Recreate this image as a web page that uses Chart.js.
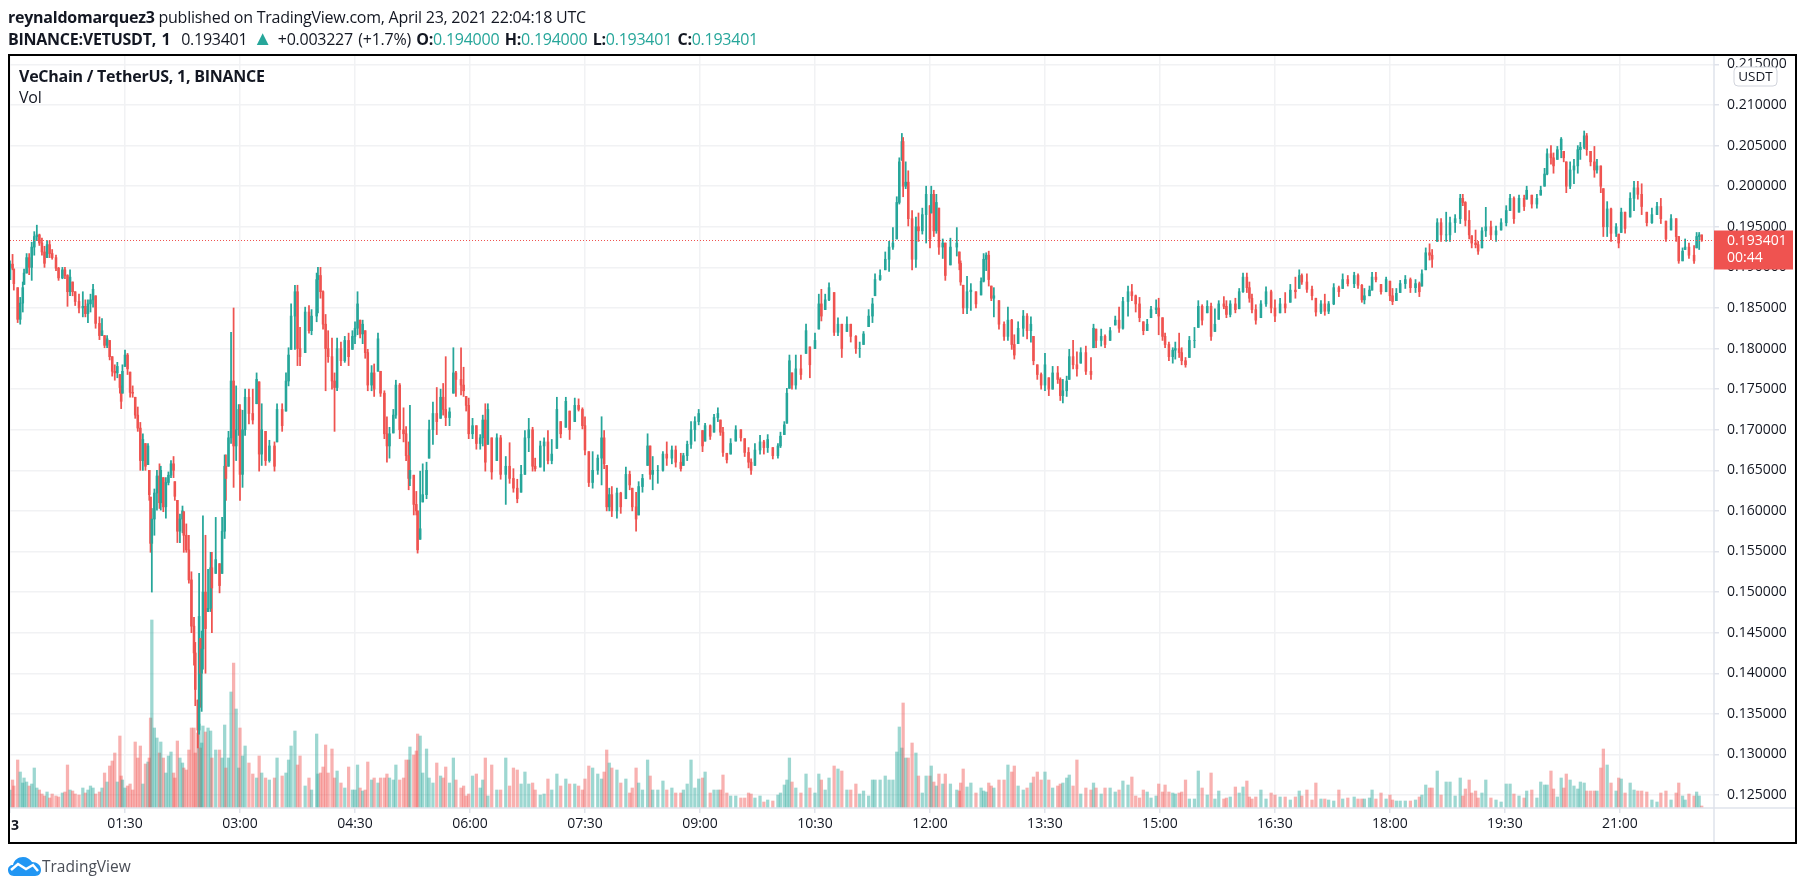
<!DOCTYPE html>
<html>
<head>
<meta charset="utf-8">
<title>VETUSDT</title>
<script src="https://cdn.jsdelivr.net/npm/chart.js@4/dist/chart.umd.min.js"></script>
<style>
html,body{margin:0;padding:0;background:#fff;width:1805px;height:890px;overflow:hidden;}
#wrap{position:relative;width:1805px;height:890px;font-family:"Open Sans",sans-serif;color:#131722;}
canvas{position:absolute;left:0;top:0;}
.t{position:absolute;white-space:nowrap;font-size:16px;line-height:20px;letter-spacing:-0.25px;}
.b{font-weight:700;}
.g{color:#26a69a;}
</style>
</head>
<body>
<div id="wrap">
<canvas id="chart" width="1805" height="890"></canvas>
<div class="t" style="left:8px;top:7px"><span class="b">reynaldomarquez3</span> published on TradingView.com, April 23, 2021 22:04:18 UTC</div>
<div class="t" style="left:8px;top:28px;word-spacing:1.5px"><span class="b">BINANCE:VETUSDT, 1</span>&nbsp; 0.193401 <span class="g" style="font-size:20px">▲</span> +0.003227 (+1.7%) <span class="b">O:</span><span class="g">0.194000</span> <span class="b">H:</span><span class="g">0.194000</span> <span class="b">L:</span><span class="g">0.193401</span> <span class="b">C:</span><span class="g">0.193401</span></div>
<div class="t b" style="left:19px;top:66px">VeChain / TetherUS, 1, BINANCE</div>
<div class="t" style="left:19px;top:87px">Vol</div>
<svg style="position:absolute;left:8px;top:857px" width="33" height="19" viewBox="0 0 33 19">
<path d="M6 19C2 19 0 16 0 13C0 10 2 8 5 8C6 3 10 0 15 0C19 0 22 2 24 5C29 5 33 8 33 13C33 16 31 19 27 19Z" fill="#2196f3"/>
<path d="M3 13L10 7L18 12L25 8L30 14" fill="none" stroke="#fff" stroke-width="2.5"/>
</svg>
<div class="t" style="left:42px;top:856px;font-size:15.5px;letter-spacing:0;color:#4a4e57">TradingView</div>
</div>
<script>
// bars; prices are in 1/10000 USDT, volume in picture units
var barMinute = [
0,2,3,6,8,10,11,13,15,17,19,21,23,25,27,29,31,33,36,38,
41,43,45,47,49,51,54,57,59,61,63,65,67,70,72,74,76,78,80,82,
84,86,87,88,90,92,94,96,98,100,102,104,106,108,109,110,111,113,115,117,
118,120,122,124,126,128,129,131,133,135,136,138,140,142,144,145,147,148,149,150,
151,153,155,157,158,161,164,166,168,169,171,173,175,177,179,180,182,184,187,
190,193,195,197,200,203,207,209,213,216,218,220,223,225,227,231,234,236,240,241,
243,245,247,249,252,254,256,259,262,265,268,270,272,274,276,278,280,283,285,288,
290,293,295,297,300,302,305,308,310,312,313,316,318,319,321,323,326,328,331,334,
337,339,341,344,347,349,353,355,357,359,362,365,368,370,372,374,
377,381,384,388,391,394,397,400,403,406,409,411,415,418,421,424,428,431,435,438,
442,445,448,450,453,456,460,463,465,467,469,471,475,478,482,485,487,490,492,495,
499,501,503,507,511,514,518,521,525,527,530,533,536,539,542,544,548,551,554,556,
558,561,
564,568,572,575,578,580,583,587,590,593,597,601,603,606,608,610,612,615,619,623,
626,630,633,635,638,641,645,648,651,655,658,662,665,668,672,675,677,681,685,688,
691,694,696,698,699,701,703,706,709,711,714,717,720,721,723,725,727,730,732,736,
741,743,744,746,749,
752,756,760,762,764,766,768,770,774,778,781,784,786,789,793,796,799,801,804,807,
810,813,816,820,822,824,827,829,832,835,838,842,846,848,850,854,857,861,865,868,
871,875,878,881,884,887,890,893,897,899,902,904,907,910,912,915,917,920,923,927,
930,933,
937,940,943,946,950,952,955,959,962,965,968,970,972,975,979,983,987,990,994,998,
1002,1006,1009,1011,1015,1019,1022,1026,1029,1032,1036,1040,1043,1047,1052,1055,1058,1060,1064,1066,
1069,1073,1077,1080,1082,1085,1088,1092,1096,1100,1103,1105,1108,1111,1113,1117,1120,
1124,1127,1131,1135,1137,1139,1142,1144,1147,1149,1152,1155,1159,1163,1167,1171,1174,1177,1181,1185,
1187,1191,1195,1198,1201,1203,1206,1208,1211,1214,1216,1218,1221,1224,1227,1229,1232,1234,1237,1240,
1242,1245,1247,1250,1253,1257,1259,1261,1264,1268,1271,1274,1277,1281,1285,1289,1292,1296,1300,1304,
1306,1309,1311,1314,1318,1320,1322,1324
];
var barHigh = [
1908,1916,1898,1875,1863,1882,1898,1917,1917,1931,1944,1952,1941,1936,1926,1933,1933,1922,1915,1900,
1900,1900,1891,1897,1882,1870,1867,1870,1860,1860,1867,1879,1865,1839,1837,1816,1816,1810,1790,1780,
1783,1768,1754,1780,1798,1794,1771,1754,1740,1728,1709,1695,1683,1683,1650,1617,1603,1627,1650,1658,
1655,1641,1641,1648,1662,1667,1636,1613,1596,1606,1599,1584,1570,1525,1469,1438,1367,1523,1443,1452,
1594,1570,1528,1549,1549,1592,1535,1592,1669,1669,1698,1820,1850,1754,1731,1731,1724,1750,1750,
1750,1770,1759,1732,1698,1687,1685,1732,1732,1770,1801,1855,1878,1878,1826,1851,1853,1848,1893,1900,
1900,1871,1842,1822,1813,1770,1813,1808,1815,1819,1822,1833,1870,1835,1835,1822,1799,1779,1781,1819,
1772,1748,1716,1703,1725,1761,1757,1727,1704,1685,1730,1644,1624,1600,1649,1658,1660,1712,1734,1752,
1750,1757,1790,1727,1801,1772,1801,1777,1741,1739,1714,1705,1694,1718,1732,1732,
1690,1695,1693,1667,1684,1652,1639,1656,1699,1714,1703,1665,1686,1690,1699,1688,1740,1710,1740,1723,
1739,1738,1727,1716,1673,1673,1669,1716,1699,1656,1628,1630,1628,1623,1654,1649,1628,1623,1636,1645,
1695,1680,1667,1656,1673,1685,1680,1680,1671,1671,1686,1710,1716,1725,1699,1708,1706,1719,1727,1712,
1703,1671,
1689,1705,1700,1689,1678,1664,1683,1693,1687,1694,1678,1683,1697,1710,1751,1792,1770,1792,1792,1830,
1802,1819,1867,1873,1867,1881,1869,1838,1830,1839,1830,1816,1808,1821,1848,1862,1892,1897,1919,1932,
1949,1987,2035,2065,2060,2030,2019,1970,1962,1967,1973,2000,1976,2000,1995,1990,1973,1935,1930,1936,
1949,1919,1908,1878,1889,
1880,1870,1887,1917,1918,1920,1877,1875,1859,1833,1851,1836,1817,1833,1847,1843,1839,1815,1780,1770,
1794,1764,1778,1778,1764,1762,1766,1799,1810,1796,1801,1803,1789,1830,1824,1824,1817,1826,1840,1851,
1863,1877,1879,1866,1863,1833,1836,1852,1860,1862,1838,1819,1808,1801,1808,1819,1801,1789,1815,1826,
1859,1854,
1859,1856,1849,1859,1864,1859,1859,1862,1874,1893,1893,1882,1867,1854,1859,1876,1872,1860,1862,1869,
1879,1888,1897,1892,1892,1877,1862,1859,1867,1858,1880,1877,1892,1890,1894,1892,1879,1874,1877,1894,
1894,1879,1888,1883,1874,1874,1884,1890,1887,1885,1882,1897,1924,1929,1922,1960,1960,
1968,1962,1965,1990,1990,1981,1970,1939,1946,1932,1949,1974,1957,1951,1960,1976,1990,1987,1989,1989,
2000,1989,1990,2000,2022,2046,2050,2041,2049,2060,2043,2030,2030,2033,2050,2054,2068,2065,2043,2049,
2033,2025,1997,1981,1973,1954,1941,1973,1968,1992,2006,2006,2003,1968,1973,1980,1985,1957,1965,1960,
1938,1924,1935,1930,1927,1943,1943,1940
];
var barLow = [
1885,1897,1872,1832,1830,1845,1879,1893,1891,1884,1915,1933,1927,1915,1900,1912,1912,1910,1896,1884,
1886,1886,1852,1865,1865,1853,1844,1839,1839,1832,1845,1851,1825,1811,1816,1801,1801,1786,1766,1761,
1764,1745,1726,1745,1778,1768,1740,1740,1714,1698,1650,1650,1650,1657,1613,1549,1500,1570,1601,1603,
1601,1599,1591,1632,1641,1641,1613,1561,1561,1573,1549,1549,1511,1450,1410,1360,1308,1325,1358,1353,
1405,1400,1476,1476,1450,1523,1499,1523,1566,1613,1655,1683,1629,1662,1693,1613,1629,1693,1707,
1707,1732,1649,1656,1656,1660,1649,1685,1698,1723,1754,1799,1799,1779,1779,1795,1819,1817,1833,1844,
1862,1824,1748,1783,1750,1698,1748,1779,1783,1779,1799,1806,1817,1813,1806,1788,1748,1748,1741,1772,
1741,1689,1660,1665,1696,1714,1689,1685,1662,1626,1631,1595,1595,1548,1565,1611,1615,1665,1682,1694,
1714,1718,1705,1705,1745,1741,1743,1741,1723,1689,1689,1676,1676,1680,1649,1682,
1639,1662,1639,1608,1634,1623,1610,1623,1645,1673,1649,1649,1654,1649,1658,1658,1677,1690,1703,1688,
1710,1723,1701,1669,1630,1628,1645,1632,1652,1600,1600,1593,1591,1597,1615,1626,1600,1575,1595,1623,
1656,1639,1626,1634,1649,1656,1658,1654,1649,1656,1662,1677,1686,1706,1673,1686,1688,1697,1710,1693,
1667,1659,
1670,1686,1686,1667,1653,1645,1656,1670,1670,1672,1664,1665,1678,1694,1708,1751,1750,1750,1762,1794,
1764,1800,1824,1834,1848,1859,1816,1816,1789,1821,1808,1794,1789,1805,1827,1832,1865,1884,1897,1895,
1922,1935,1978,2032,1987,1997,1951,1897,1900,1932,1941,1930,1924,1967,1938,1942,1916,1911,1884,1903,
1914,1897,1878,1843,1843,
1847,1850,1866,1882,1896,1877,1859,1839,1824,1810,1810,1799,1787,1806,1815,1812,1808,1780,1762,1750,
1748,1742,1750,1757,1736,1733,1741,1762,1775,1766,1782,1768,1762,1801,1801,1803,1801,1810,1829,1820,
1824,1840,1859,1845,1833,1817,1822,1838,1843,1817,1810,1801,1785,1782,1787,1789,1780,1777,1789,1801,
1826,1829,
1844,1810,1821,1836,1849,1838,1839,1844,1849,1869,1869,1857,1844,1830,1838,1852,1844,1833,1844,1844,
1857,1862,1874,1879,1869,1860,1840,1843,1841,1843,1854,1864,1874,1877,1875,1874,1857,1855,1865,1872,
1882,1867,1870,1859,1854,1859,1869,1874,1869,1869,1864,1877,1897,1909,1900,1932,1932,
1932,1932,1943,1954,1976,1951,1935,1924,1924,1916,1924,1938,1934,1932,1946,1951,1970,1954,1968,1970,
1984,1973,1973,1989,2000,2014,2027,2016,2033,2035,2030,1992,1997,2003,2016,2033,2046,2038,2025,2011,
2016,1992,1938,1938,1932,1938,1924,1943,1942,1962,1970,1984,1965,1951,1954,1965,1954,1932,1946,1932,
1905,1908,1922,1911,1905,1924,1922,1932
];
var barClose = [
1904,1899,1880,1836,1856,1875,1893,1912,1900,1925,1938,1940,1930,1919,1905,1928,1917,1912,1899,1887,
1897,1890,1870,1888,1870,1858,1850,1852,1843,1855,1860,1873,1831,1816,1822,1804,1812,1790,1772,1770,
1778,1752,1735,1772,1792,1775,1746,1745,1718,1702,1662,1688,1655,1680,1620,1560,1590,1622,1643,1610,
1650,1605,1635,1644,1658,1650,1618,1575,1590,1600,1570,1552,1515,1458,1425,1380,1330,1470,1400,1430,
1500,1455,1480,1530,1505,1540,1508,1575,1655,1640,1690,1760,1680,1700,1725,1645,1700,1740,1720,
1712,1762,1670,1700,1662,1680,1655,1725,1705,1760,1792,1840,1870,1800,1790,1845,1822,1840,1885,1890,
1870,1830,1800,1790,1760,1752,1800,1785,1810,1790,1815,1825,1855,1818,1830,1795,1755,1770,1750,1812,
1745,1695,1680,1695,1718,1755,1700,1695,1668,1640,1650,1608,1600,1552,1578,1620,1650,1700,1720,1710,
1740,1725,1715,1722,1770,1762,1755,1748,1730,1695,1705,1683,1690,1712,1660,1725,
1648,1690,1645,1655,1640,1628,1615,1645,1690,1700,1655,1652,1680,1685,1662,1670,1725,1695,1735,1700,
1730,1725,1705,1675,1635,1650,1665,1690,1658,1605,1620,1600,1622,1605,1645,1632,1605,1590,1630,1640,
1680,1645,1650,1650,1670,1665,1675,1660,1652,1668,1682,1700,1710,1720,1680,1705,1692,1715,1720,1697,
1672,1663,
1683,1700,1690,1672,1660,1650,1675,1685,1678,1688,1668,1680,1692,1706,1745,1785,1755,1775,1768,1822,
1780,1810,1855,1840,1860,1875,1820,1830,1800,1830,1815,1800,1800,1818,1840,1855,1885,1890,1910,1925,
1930,1980,2030,2055,2000,2005,1960,1910,1950,1945,1965,1990,1935,1990,1945,1980,1925,1930,1890,1925,
1930,1905,1882,1850,1870,
1872,1855,1883,1910,1915,1885,1862,1865,1830,1815,1835,1805,1792,1825,1840,1822,1830,1785,1768,1755,
1780,1750,1770,1762,1742,1748,1760,1790,1780,1775,1795,1772,1768,1825,1810,1815,1805,1822,1835,1825,
1858,1870,1865,1855,1838,1822,1830,1848,1850,1840,1815,1805,1790,1798,1800,1795,1785,1780,1810,1810,
1852,1835,
1852,1815,1830,1855,1852,1842,1855,1848,1870,1888,1875,1862,1848,1835,1855,1870,1850,1840,1855,1850,
1872,1870,1890,1882,1873,1865,1845,1855,1846,1855,1875,1870,1885,1880,1890,1878,1860,1865,1872,1888,
1885,1870,1885,1865,1858,1868,1880,1885,1875,1880,1870,1892,1918,1915,1910,1955,1940,
1940,1955,1960,1985,1980,1958,1940,1930,1928,1920,1945,1950,1940,1945,1955,1970,1985,1960,1985,1975,
1995,1978,1985,1995,2015,2040,2035,2025,2045,2058,2035,2000,2020,2025,2045,2048,2062,2045,2030,2020,
2025,2000,1950,1972,1942,1950,1930,1968,1948,1985,1998,1990,1975,1955,1965,1975,1960,1935,1960,1938,
1908,1920,1925,1915,1908,1938,1940,1934
];
var barVolume = [
18,28,22,48,36,25,30,26,22,24,40,20,18,14,12,16,10,14,12,11,
15,16,43,18,17,14,13,20,15,18,22,20,14,16,20,35,26,42,47,55,
26,72,32,28,20,22,24,18,66,50,62,24,44,46,50,90,188,80,70,55,
66,50,35,52,56,35,30,67,50,45,40,38,58,80,80,55,75,84,60,65,
82,76,80,77,50,58,58,50,83,40,50,116,145,99,40,80,52,62,45,
34,30,52,35,30,28,30,50,32,35,48,62,77,43,52,22,30,18,74,34,
35,41,63,35,59,30,37,25,20,41,18,18,43,20,17,18,46,28,30,25,
30,30,34,30,28,43,28,30,48,48,61,53,57,74,72,35,59,30,25,45,
32,30,41,25,50,28,20,22,12,14,32,34,20,28,50,12,
43,18,18,50,22,40,38,24,36,24,25,18,13,14,29,18,34,22,29,24,
24,22,18,29,42,40,34,29,36,58,45,40,38,25,29,15,20,40,25,18,
48,32,18,18,27,18,20,15,15,18,24,48,20,29,30,36,15,18,18,18,
33,15,
12,12,10,10,15,14,10,12,6,8,7,13,15,23,28,50,26,20,15,34,
20,15,34,28,18,30,42,39,37,18,18,24,14,17,12,28,28,28,32,28,
28,56,81,60,105,50,50,65,55,32,15,32,32,42,26,22,34,24,34,24,
18,17,25,39,21,
25,15,20,17,16,25,22,20,28,28,43,36,42,22,18,20,25,31,36,28,
36,28,20,22,24,25,30,33,22,48,14,20,18,25,20,14,20,20,16,18,
27,23,31,12,10,18,16,10,12,24,16,23,16,15,14,15,16,28,9,9,
37,20,
13,35,9,17,9,10,11,21,15,21,27,11,9,11,18,9,15,13,11,11,
8,11,17,12,18,8,25,9,9,8,7,18,9,10,11,9,9,9,10,18,
9,15,9,13,8,7,7,7,7,8,11,13,23,20,20,37,13,
26,26,12,30,12,19,28,15,17,10,15,28,10,8,6,24,24,14,12,10,
17,18,10,26,23,23,37,19,11,30,20,34,28,22,19,26,25,17,17,17,
17,40,59,43,25,17,30,29,15,25,18,17,17,16,8,6,15,17,8,15,
25,12,8,14,12,16,12,2
];
var lastPrice = 0.193401;
var countdown = "00:44";

var upColor = "#26a69a", downColor = "#ef5350";
var upVolume = "rgba(38,166,154,0.45)", downVolume = "rgba(239,83,80,0.45)";

var wicks = [], bodies = [], volumes = [], barColors = [], volumeColors = [];
for (var i = 0; i < barMinute.length; i++) {
  var hi = barHigh[i] / 1e4, lo = barLow[i] / 1e4, cl = barClose[i] / 1e4;
  var op = i ? barClose[i - 1] / 1e4 : lo;
  op = Math.min(hi, Math.max(lo, op));
  var up = cl >= op;
  wicks.push({x: barMinute[i], y: [lo, hi]});
  bodies.push({x: barMinute[i], y: [Math.min(op, cl), Math.max(op, cl)]});
  volumes.push({x: barMinute[i], y: barVolume[i]});
  barColors.push(up ? upColor : downColor);
  volumeColors.push(up ? upVolume : downVolume);
}

var decorations = {
  id: 'decorations',
  afterDatasetsDraw: function(chart) {
    var c = chart.ctx, a = chart.chartArea, y = chart.scales.y, x = chart.scales.x;
    var py = Math.round(y.getPixelForValue(lastPrice)) + 0.5;
    c.save();
    // last price line
    c.strokeStyle = downColor;
    c.setLineDash([1, 2]);
    c.beginPath(); c.moveTo(a.left, py); c.lineTo(a.right + 5, py); c.stroke();
    c.setLineDash([]);
    // axis lines run on into the corner
    c.strokeStyle = "#e0e3eb";
    c.lineWidth = 1.5;
    c.beginPath();
    c.moveTo(a.right, a.top); c.lineTo(a.right, 843);
    c.moveTo(a.left, a.bottom); c.lineTo(1796, a.bottom);
    c.stroke();
    // price badge
    c.fillStyle = downColor;
    c.fillRect(a.right, py - 10, 79, 39);
    c.fillStyle = "#fff";
    c.font = "14px 'Open Sans'";
    c.textBaseline = "middle";
    c.fillText(lastPrice.toFixed(6), 1727, py + 1);
    c.fillText(countdown, 1727, py + 18);
    // currency pill
    c.beginPath(); c.roundRect(1734, 67, 43, 19, 4);
    c.fillStyle = "#fff"; c.fill();
    c.strokeStyle = "#d1d4dc"; c.lineWidth = 1; c.stroke();
    c.fillStyle = "#131722";
    c.font = "13.5px 'Open Sans'";
    c.textAlign = "center";
    c.fillText("USDT", 1755.5, 77);
    // clipped day label at the left edge
    c.textAlign = "left";
    c.font = "bold 14px 'Open Sans'";
    c.fillText("3", x.getPixelForValue(0) + 1, 826);
    // frame
    c.strokeStyle = "#000"; c.lineWidth = 2;
    c.strokeRect(9, 55, 1787, 788);
    c.restore();
  }
};

new Chart(document.getElementById('chart'), {
  type: 'bar',
  data: {
    datasets: [
      {data: bodies, yAxisID: 'y', backgroundColor: barColors, barThickness: 1.9, order: 1},
      {data: wicks, yAxisID: 'y', backgroundColor: barColors, barThickness: 1.1, order: 2},
      {data: volumes, yAxisID: 'yVol', backgroundColor: volumeColors, barThickness: 2.6, order: 3}
    ]
  },
  options: {
    responsive: false,
    animation: false,
    devicePixelRatio: 1,
    grouped: false,
    layout: {padding: {left: 10, right: 0, top: 56, bottom: 47}},
    plugins: {legend: {display: false}, tooltip: {enabled: false}},
    scales: {
      x: {
        type: 'linear', offset: false, min: 0, max: 1333.6,
        grid: {offset: false, color: "#f1f2f4", lineWidth: 1.5, tickLength: 5, tickColor: "#e0e3eb"},
        border: {display: false},
        afterFit: function(s) { s.height = 35; },
        ticks: {
          stepSize: 90, includeBounds: false, autoSkip: false, maxRotation: 0, padding: 3,
          color: "#131722", font: {family: "'Open Sans'", size: 14},
          callback: function(v) {
            if (v === 0) return '';
            var h = Math.floor(v / 60), m = v % 60;
            return (h < 10 ? '0' : '') + h + ':' + (m < 10 ? '0' : '') + m;
          }
        }
      },
      y: {
        position: 'right', min: 0.1234, max: 0.21604,
        grid: {color: "#f1f2f4", lineWidth: 1.5, tickLength: 5, tickColor: "#e0e3eb"},
        border: {display: false},
        afterFit: function(s) { s.width = 91; },
        ticks: {
          stepSize: 0.005, includeBounds: false, autoSkip: false, padding: 8,
          color: "#131722", font: {family: "'Open Sans'", size: 14},
          callback: function(v) { return v.toFixed(6); }
        }
      },
      yVol: {display: false, min: 0, max: 752}
    }
  },
  plugins: [decorations]
});
</script>
</body>
</html>
